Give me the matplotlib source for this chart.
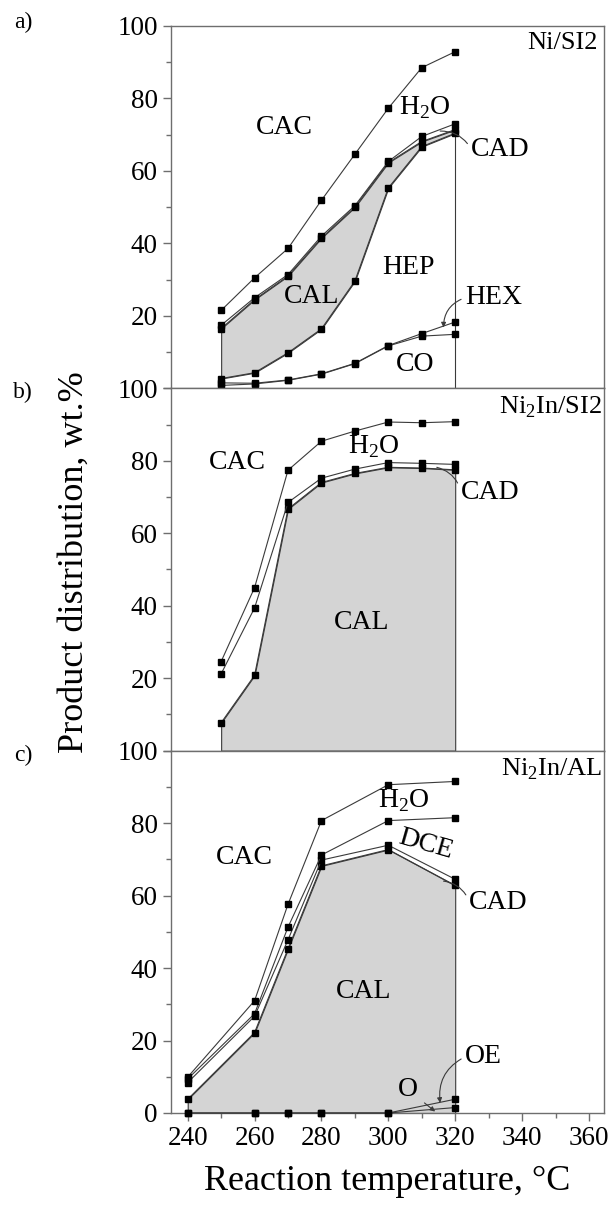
import matplotlib
matplotlib.use("Agg")
import matplotlib.pyplot as plt
from matplotlib.ticker import MultipleLocator

plt.rcParams['font.family'] = ['Liberation Serif', 'DejaVu Serif']
plt.rcParams['mathtext.fontset'] = 'custom'
plt.rcParams['mathtext.rm'] = 'Liberation Serif'

# --- data (cumulative wt.%) ---
temp_ab = [250, 260, 270, 280, 290, 300, 310, 320]

a_co = [0.8, 1.2, 2.2, 3.9, 6.8, 11.7, 14.4, 14.9]
a_hex = [1.5, 1.4, 2.3, 4.0, 6.9, 11.8, 15.1, 18.3]
a_hep = [2.7, 4.3, 9.8, 16.4, 29.6, 55.3, 66.7, 70.4]
a_cal = [16.5, 24.5, 31.0, 41.5, 50.0, 62.3, 68.1, 71.4]
a_cad = [17.4, 25.0, 31.4, 42.0, 50.4, 62.6, 69.5, 73.0]
a_h2o = [21.5, 30.5, 38.6, 51.9, 64.6, 77.3, 88.5, 92.9]

b_cal = [7.7, 20.8, 66.7, 74.0, 76.5, 78.2, 78.0, 77.5]
b_cad = [21.2, 39.4, 68.5, 75.2, 77.7, 79.5, 79.3, 79.0]
b_h2o = [24.6, 45.0, 77.4, 85.4, 88.2, 90.7, 90.5, 90.8]

temp_c = [240, 260, 270, 280, 300, 320]
c_o = [0, 0, 0, 0, 0, 1.5]
c_oe = [0, 0, 0, 0, 0, 3.8]
c_cal = [3.8, 22.2, 45.3, 68.2, 72.7, 62.8]
c_cad = [8.4, 26.7, 47.8, 69.8, 73.9, 64.5]
c_dce = [9.4, 27.4, 51.3, 71.2, 80.7, 81.5]
c_h2o = [9.9, 31.0, 57.6, 80.7, 90.6, 91.5]

LINE = '#3a3a3a'
FILL = '#d4d4d4'
SPINE = '#6e6e6e'
H2O = r'H$_{\mathregular{2}}$O'

fig = plt.figure(figsize=(6.12, 12.05), dpi=100)
left, width, h = 0.2794, 0.7075, 0.3007
bottoms = [0.07635 + 2 * h, 0.07635 + h, 0.07635]
axes = [fig.add_axes([left, b, width, h]) for b in bottoms]


def curve(ax, x, y):
    ax.plot(x, y, color=LINE, lw=0.8, marker='s', ms=5, mfc='black',
            mec='black', zorder=3, clip_on=False)


def leader(ax, txt, xy, xytext, rad=0.3, head=False, fs=20, **kw):
    style = '-|>' if head else '-'
    ax.annotate(txt, xy=xy, xytext=xytext, ha='center', va='center',
                fontsize=fs,
                arrowprops=dict(arrowstyle=style, color=LINE, lw=0.8,
                                mutation_scale=7, shrinkA=1, shrinkB=0,
                                relpos=(0, 0.5),
                                connectionstyle=f'arc3,rad={rad}'), **kw)


for ax in axes:
    ax.set_xlim(235, 364.5)
    ax.set_ylim(0, 100)
    ax.xaxis.set_major_locator(MultipleLocator(20))
    ax.xaxis.set_minor_locator(MultipleLocator(10))
    ax.yaxis.set_major_locator(MultipleLocator(20))
    ax.yaxis.set_minor_locator(MultipleLocator(10))
    ax.tick_params(which='both', direction='out', color=SPINE, width=1,
                   labelsize=19.5, top=False, right=False)
    ax.tick_params(which='major', length=6)
    ax.tick_params(which='minor', length=3.5)
    for s in ax.spines.values():
        s.set_color(SPINE)
        s.set_linewidth(1)

for ax in axes[:2]:
    ax.tick_params(which='both', bottom=False, labelbottom=False)
    ax.set_yticks([0, 20, 40, 60, 80, 100])
    ax.set_yticklabels(['', '20', '40', '60', '80', '100'])

# --- a) Ni/SI2 ---
ax = axes[0]
ax.fill_between(temp_ab, a_hep, a_cal, facecolor=FILL, edgecolor=LINE,
                lw=0.8, zorder=1)
ax.vlines(temp_ab[-1], 0, a_hep[-1], color=LINE, lw=0.8, zorder=2)
for y in [a_co, a_hex, a_hep, a_cal, a_cad, a_h2o]:
    curve(ax, temp_ab, y)
ax.text(362.5, 95.3, 'Ni/SI2', ha='right', va='center', fontsize=19)
ax.text(269, 72, 'CAC', ha='center', va='center', fontsize=20)
ax.text(311, 77.5, H2O, ha='center', va='center', fontsize=20)
ax.text(306, 33.3, 'HEP', ha='center', va='center', fontsize=20)
ax.text(277, 25.4, 'CAL', ha='center', va='center', fontsize=20)
ax.text(308, 6.6, 'CO', ha='center', va='center', fontsize=20)
leader(ax, 'CAD', (315.5, 71), (333.5, 66), rad=0.3)
leader(ax, 'HEX', (316.5, 16.8), (331.5, 25), rad=0.35, head=True)

# --- b) Ni2In/SI2 ---
ax = axes[1]
ax.fill_between(temp_ab, 0, b_cal, facecolor=FILL, edgecolor=LINE,
                lw=0.8, zorder=1)
for y in [b_cal, b_cad, b_h2o]:
    curve(ax, temp_ab, y)
ax.text(364, 94.8, r'Ni$_{\mathregular{2}}$In/SI2', ha='right', va='center',
        fontsize=19)
ax.text(255, 79.6, 'CAC', ha='center', va='center', fontsize=20)
ax.text(295.6, 84, H2O, ha='center', va='center', fontsize=20)
ax.text(292, 35.5, 'CAL', ha='center', va='center', fontsize=20)
leader(ax, 'CAD', (314.5, 78.2), (330.5, 71.3), rad=0.3)

# --- c) Ni2In/AL ---
ax = axes[2]
ax.fill_between(temp_c, 0, c_cal, facecolor=FILL, edgecolor=LINE,
                lw=0.8, zorder=1)
for y in [c_o, c_oe, c_cal, c_cad, c_dce, c_h2o]:
    curve(ax, temp_c, y)
ax.text(364, 95, r'Ni$_{\mathregular{2}}$In/AL', ha='right', va='center',
        fontsize=19)
ax.text(257, 70.6, 'CAC', ha='center', va='center', fontsize=20)
ax.text(304.5, 86.2, H2O, ha='center', va='center', fontsize=20)
ax.text(311.3, 74.2, 'DCE', ha='center', va='center', fontsize=20,
        rotation=-16)
ax.text(292.5, 33.6, 'CAL', ha='center', va='center', fontsize=20)
leader(ax, 'CAD', (316.5, 64), (333, 58.2), rad=0.3)
leader(ax, 'OE', (315.5, 2.8), (328.5, 15.5), rad=0.35, head=True)
ax.annotate('O', xy=(314, 0.4), xytext=(305.7, 6.6), ha='center',
            va='center', fontsize=20,
            arrowprops=dict(arrowstyle='-|>', color=LINE, lw=0.8,
                            mutation_scale=7, shrinkA=4, shrinkB=0))
ax.set_xlabel('Reaction temperature, \u00b0C', fontsize=26, labelpad=10)

fig.text(0.121, 0.5336, 'Product distribution, wt.%', rotation=90,
         ha='center', va='center', fontsize=26)
panel_tags = [('a)', 1 - 22 / 1205), ('b)', 1 - 392 / 1205),
              ('c)', 1 - 755 / 1205)]
for lab, yy in panel_tags:
    fig.text(23 / 612, yy, lab, ha='center', va='center', fontsize=17)

fig.savefig('out.png', dpi=100)
